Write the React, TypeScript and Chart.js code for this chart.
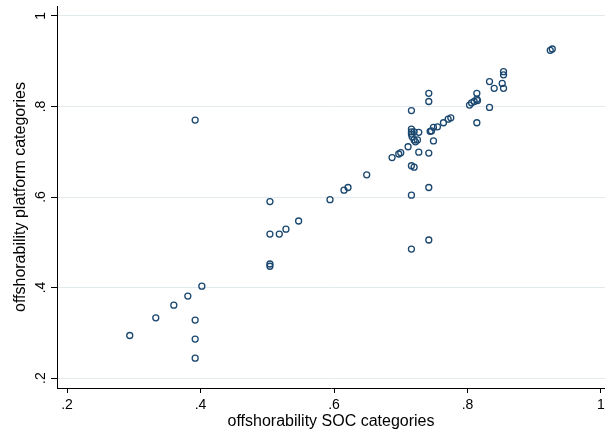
import React, { useEffect, useRef } from "react";
import { Chart, registerables } from "chart.js";

Chart.register(...registerables);

// offshorability SOC categories (x)
const SOC_X = [
  0.294, 0.333, 0.360, 0.381, 0.392, 0.392, 0.392, 0.392, 0.402,
  0.504, 0.504, 0.504, 0.504, 0.518, 0.528, 0.547, 0.594, 0.615, 0.621, 0.649,
  0.687, 0.697, 0.700, 0.711, 0.716, 0.720, 0.716, 0.742, 0.716, 0.742,
  0.727, 0.742, 0.742, 0.742, 0.716, 0.716, 0.716, 0.716, 0.720, 0.727,
  0.717, 0.720, 0.722, 0.725, 0.746, 0.749, 0.755, 0.764, 0.771, 0.775,
  0.749, 0.744, 0.854, 0.854, 0.852, 0.854, 0.833, 0.840, 0.814, 0.814,
  0.810, 0.806, 0.803, 0.815, 0.833, 0.814, 0.924, 0.927,
];

// offshorability platform categories (y)
const PLATFORM_Y = [
  0.294, 0.333, 0.361, 0.381, 0.328, 0.286, 0.244, 0.770, 0.403,
  0.452, 0.447, 0.590, 0.518, 0.518, 0.529, 0.547, 0.594, 0.615, 0.621, 0.649,
  0.687, 0.695, 0.698, 0.711, 0.669, 0.666, 0.604, 0.621, 0.485, 0.505,
  0.699, 0.697, 0.829, 0.811, 0.791, 0.750, 0.744, 0.739, 0.744, 0.743,
  0.733, 0.726, 0.722, 0.726, 0.746, 0.754, 0.755, 0.764, 0.772, 0.775,
  0.724, 0.745, 0.877, 0.870, 0.851, 0.840, 0.855, 0.840, 0.829, 0.816,
  0.811, 0.808, 0.803, 0.813, 0.798, 0.764, 0.924, 0.927,
];

const X_TICKS = [0.2, 0.4, 0.6, 0.8, 1];
const X_TICK_LABELS = [".2", ".4", ".6", ".8", "1"];
const Y_TICKS = [0.2, 0.4, 0.6, 0.8, 1];
const Y_TICK_LABELS = [".2", ".4", ".6", ".8", "1"];

const X_TITLE = "offshorability SOC categories";
const Y_TITLE = "offshorability platform categories";

const FONT = "'Liberation Sans', Arial, Helvetica, sans-serif";

export default function App() {
  const ref = useRef<HTMLCanvasElement | null>(null);

  useEffect(() => {
    if (!ref.current) return;
    const points = SOC_X.map((x, i) => ({ x, y: PLATFORM_Y[i] }));
    const chart = new Chart(ref.current, {
      type: "scatter",
      data: {
        datasets: [
          {
            data: points,
            pointStyle: "circle",
            pointRadius: 3,
            pointHoverRadius: 3,
            borderWidth: 1.3,
            borderColor: "#1a476f",
            backgroundColor: "rgba(0,0,0,0)",
          },
        ],
      },
      options: {
        animation: false,
        responsive: false,
        devicePixelRatio: 1,
        layout: { autoPadding: false, padding: { top: 6, left: 0, right: 0, bottom: 0 } },
        plugins: {
          legend: { display: false },
          tooltip: { enabled: false },
        },
        scales: {
          x: {
            type: "linear",
            min: 0.185,
            max: 1.006,
            afterBuildTicks: (s: any) => {
              s.ticks = X_TICKS.map((v) => ({ value: v }));
            },
            afterFit: (s: any) => {
              s.height = 49;
              s.paddingLeft = 0;
              s.paddingRight = 0;
            },
            grid: {
              drawOnChartArea: false,
              drawTicks: true,
              tickLength: 5,
              tickColor: "#000000",
              tickWidth: 1,
            },
            border: { display: true, color: "#000000", width: 1 },
            ticks: {
              autoSkip: false,
              maxRotation: 0,
              minRotation: 0,
              padding: 4,
              color: "#000000",
              font: { family: FONT, size: 14 },
              callback: (_v: any, i: number) => X_TICK_LABELS[i],
            },
            title: {
              display: true,
              text: X_TITLE,
              color: "#000000",
              font: { family: FONT, size: 16 },
              padding: { top: 0, bottom: 5.6 },
            },
          },
          y: {
            type: "linear",
            min: 0.178,
            max: 1.022,
            afterBuildTicks: (s: any) => {
              s.ticks = Y_TICKS.map((v) => ({ value: v }));
            },
            afterFit: (s: any) => {
              s.width = 57;
              s.paddingTop = 0;
              s.paddingBottom = 0;
            },
            grid: {
              drawOnChartArea: true,
              color: "#e2eaee",
              lineWidth: 1,
              drawTicks: true,
              tickLength: 6,
              tickColor: "#000000",
              tickWidth: 1,
            },
            border: { display: true, color: "#000000", width: 1 },
            ticks: {
              autoSkip: false,
              minRotation: 90,
              maxRotation: 90,
              crossAlign: "center",
              padding: 4,
              color: "#000000",
              font: { family: FONT, size: 14 },
              callback: (_v: any, i: number) => Y_TICK_LABELS[i],
            },
            title: {
              display: true,
              text: Y_TITLE,
              color: "#000000",
              font: { family: FONT, size: 16 },
              padding: { top: 11, bottom: 0 },
            },
          },
        },
      },
    });
    return () => chart.destroy();
  }, []);

  return (
    <div style={{ position: "absolute", left: 0, top: 0, width: 605, height: 437, background: "#ffffff" }}>
      <canvas ref={ref} width={605} height={437} style={{ display: "block" }} />
    </div>
  );
}
